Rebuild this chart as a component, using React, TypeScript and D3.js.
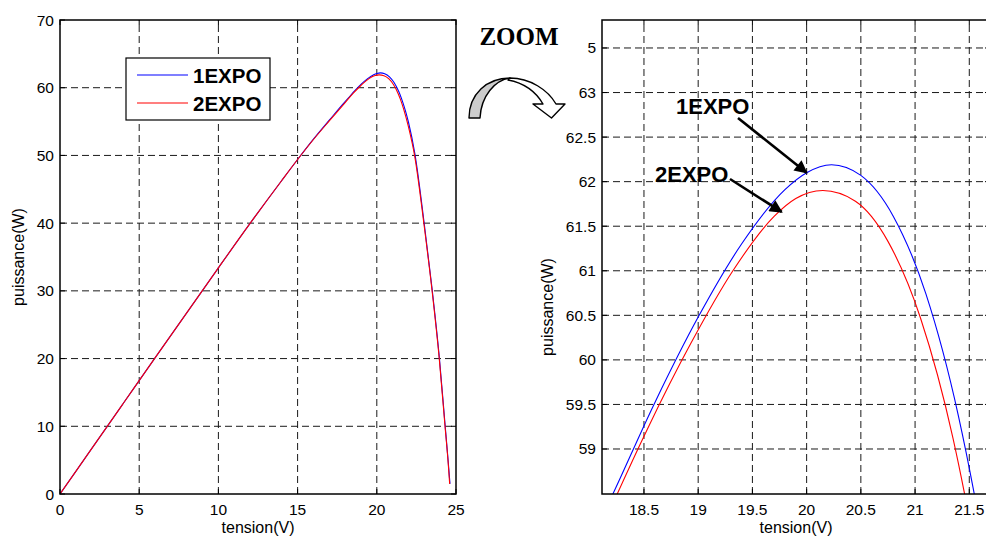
import React, { useEffect, useRef } from "react";
import * as d3 from "d3";

// 1EXPO (blue) : tension (V) / puissance (W)
const v1 = [0, 2, 4, 6, 8, 10, 12, 14, 15, 16, 17, 18, 18.2, 18.6, 19.0, 19.4, 19.8, 20.0, 20.23, 20.5, 20.8, 21.1, 21.4, 21.55, 21.8, 22.0, 22.4, 22.98, 23.5, 23.95, 24.3, 24.5, 24.62];
const p1 = [0, 6.7, 13.4, 20.1, 26.75, 33.4, 39.96, 46.3, 49.4, 52.4, 55.2, 57.95, 58.46, 59.52, 60.48, 61.3, 61.91, 62.1, 62.19, 62.07, 61.61, 60.74, 59.37, 58.47, 56.66, 54.9, 50.3, 40.2, 30.1, 20.1, 10.5, 5.0, 1.5];
// 2EXPO (red)
const v2 = [0, 2, 4, 6, 8, 10, 12, 14, 15, 16, 17, 18, 18.13, 18.53, 18.93, 19.32, 19.7, 19.9, 20.15, 20.45, 20.75, 21.05, 21.35, 21.48, 21.7, 22.0, 22.4, 22.98, 23.5, 23.95, 24.3, 24.5, 24.6];
const p2 = [0, 6.7, 13.4, 20.1, 26.75, 33.4, 39.96, 46.3, 49.4, 52.35, 55.1, 57.8, 58.16, 59.22, 60.18, 61.0, 61.61, 61.81, 61.9, 61.78, 61.33, 60.47, 59.12, 58.35, 56.8, 54.2, 49.8, 39.8, 29.8, 19.8, 10.2, 4.8, 1.5];

const leftXTicks = [0, 5, 10, 15, 20, 25];
const leftYTicks = [0, 10, 20, 30, 40, 50, 60, 70];
const rightXTicks = [18.5, 19, 19.5, 20, 20.5, 21, 21.5];
const rightYTicks = [59, 59.5, 60, 60.5, 61, 61.5, 62, 62.5, 63, 63.5];
const rightYTickLabels = ["59", "59.5", "60", "60.5", "61", "61.5", "62", "62.5", "63", "5"];
const seriesNames = ["1EXPO", "2EXPO"];
const colors = ["#0000ff", "#ff0000"];

const W = 986;
const H = 539;
const SANS = "'Liberation Sans', Arial, sans-serif";

export default function App() {
  const ref = useRef<SVGSVGElement | null>(null);

  useEffect(() => {
    const svg = d3.select(ref.current);
    svg.selectAll("*").remove();

    const s1 = v1.map((v, i) => [v, p1[i]] as [number, number]);
    const s2 = v2.map((v, i) => [v, p2[i]] as [number, number]);

    function panel(opts: {
      id: string;
      xDom: [number, number];
      yDom: [number, number];
      xr: [number, number];
      yr: [number, number];
      xt: number[];
      yt: number[];
      yLab: (d: number, i: number) => string;
      ylabelPos: [number, number];
    }) {
      const x = d3.scaleLinear().domain(opts.xDom).range(opts.xr);
      const y = d3.scaleLinear().domain(opts.yDom).range(opts.yr);
      const [x0, x1] = opts.xr;
      const [y0, y1] = opts.yr; // y0 bottom, y1 top
      const g = svg.append("g");

      g.append("clipPath")
        .attr("id", opts.id)
        .append("rect")
        .attr("x", x0)
        .attr("y", y1)
        .attr("width", x1 - x0)
        .attr("height", y0 - y1);

      // grid
      const grid = g.append("g").attr("stroke", "#1a1a1a").attr("stroke-width", 1).attr("stroke-dasharray", "7,4");
      opts.xt.forEach((t) => {
        if (x(t) <= x0 + 1 || x(t) >= x1 - 1) return;
        grid.append("line").attr("x1", x(t)).attr("x2", x(t)).attr("y1", y0).attr("y2", y1);
      });
      opts.yt.forEach((t) => {
        if (y(t) >= y0 - 1 || y(t) <= y1 + 1) return;
        grid.append("line").attr("x1", x0).attr("x2", x1).attr("y1", y(t)).attr("y2", y(t));
      });

      // curves
      const line = d3
        .line<[number, number]>()
        .x((d) => x(d[0]))
        .y((d) => y(d[1]))
        .curve(d3.curveMonotoneX);
      const cg = g.append("g").attr("clip-path", `url(#${opts.id})`);
      [s1, s2].forEach((s, i) => {
        cg.append("path").attr("d", line(s)).attr("fill", "none").attr("stroke", colors[i]).attr("stroke-width", 1.1);
      });

      // frame + inward ticks
      g.append("rect")
        .attr("x", x0)
        .attr("y", y1)
        .attr("width", x1 - x0)
        .attr("height", y0 - y1)
        .attr("fill", "none")
        .attr("stroke", "#000")
        .attr("stroke-width", 1.5);
      const tk = g.append("g").attr("stroke", "#000").attr("stroke-width", 1);
      opts.xt.forEach((t) => {
        tk.append("line").attr("x1", x(t)).attr("x2", x(t)).attr("y1", y0).attr("y2", y0 - 5);
        tk.append("line").attr("x1", x(t)).attr("x2", x(t)).attr("y1", y1).attr("y2", y1 + 5);
      });
      opts.yt.forEach((t) => {
        tk.append("line").attr("x1", x0).attr("x2", x0 + 5).attr("y1", y(t)).attr("y2", y(t));
        tk.append("line").attr("x1", x1).attr("x2", x1 - 5).attr("y1", y(t)).attr("y2", y(t));
      });

      // tick labels
      const lab = g.append("g").attr("font-family", SANS).attr("font-size", 15.5).attr("fill", "#000");
      opts.xt.forEach((t) => {
        lab.append("text").attr("x", x(t)).attr("y", y0 + 21).attr("text-anchor", "middle").text(String(t));
      });
      opts.yt.forEach((t, i) => {
        lab.append("text").attr("x", x0 - 6).attr("y", y(t) + 5.5).attr("text-anchor", "end").text(opts.yLab(t, i));
      });

      g.append("text")
        .attr("x", (x0 + x1) / 2)
        .attr("y", 533)
        .attr("text-anchor", "middle")
        .attr("font-family", SANS)
        .attr("font-size", 16)
        .text("tension(V)");
      g.append("text")
        .attr("transform", `translate(${opts.ylabelPos[0]},${opts.ylabelPos[1]}) rotate(-90)`)
        .attr("text-anchor", "middle")
        .attr("font-family", SANS)
        .attr("font-size", 16)
        .text("puissance(W)");

      return { x, y, g };
    }

    panel({
      id: "clipL",
      xDom: [0, 25],
      yDom: [0, 70],
      xr: [60, 456],
      yr: [494, 20],
      xt: leftXTicks,
      yt: leftYTicks,
      yLab: (d) => String(d),
      ylabelPos: [24, 257],
    });

    const R = panel({
      id: "clipR",
      xDom: [18.113, 21.691],
      yDom: [58.495, 63.814],
      xr: [602, 990],
      yr: [494, 20],
      xt: rightXTicks,
      yt: rightYTicks,
      yLab: (_d, i) => rightYTickLabels[i],
      ylabelPos: [553, 307],
    });

    // legend
    const lg = svg.append("g");
    lg.append("rect").attr("x", 126).attr("y", 58).attr("width", 144).attr("height", 62).attr("fill", "#fff").attr("stroke", "#000").attr("stroke-width", 1.2);
    seriesNames.forEach((n, i) => {
      const yy = 75 + i * 28;
      lg.append("line").attr("x1", 137).attr("x2", 188).attr("y1", yy).attr("y2", yy).attr("stroke", colors[i]).attr("stroke-width", 1.1);
      lg.append("text")
        .attr("x", 193)
        .attr("y", yy + 8)
        .attr("font-family", SANS)
        .attr("font-weight", "bold")
        .attr("font-size", 20.5)
        .text(n);
    });

    // annotations on zoom panel
    const defs = svg.append("defs");
    defs
      .append("marker")
      .attr("id", "ah")
      .attr("viewBox", "0 0 10 10")
      .attr("refX", 9)
      .attr("refY", 5)
      .attr("markerWidth", 6)
      .attr("markerHeight", 5)
      .attr("orient", "auto")
      .append("path")
      .attr("d", "M0,0 L10,5 L0,10 Z")
      .attr("fill", "#000");

    const ann = svg.append("g");
    const annots = [
      { text: seriesNames[0], tx: 676, ty: 114, from: [738, 118], to: [20.0, 62.1] },
      { text: seriesNames[1], tx: 655, ty: 182, from: [730, 179], to: [19.77, 61.66] },
    ];
    annots.forEach((a) => {
      ann.append("text")
        .attr("x", a.tx)
        .attr("y", a.ty)
        .attr("font-family", SANS)
        .attr("font-weight", "bold")
        .attr("font-size", 22)
        .text(a.text);
      ann.append("line")
        .attr("x1", a.from[0])
        .attr("y1", a.from[1])
        .attr("x2", R.x(a.to[0]))
        .attr("y2", R.y(a.to[1]))
        .attr("stroke", "#000")
        .attr("stroke-width", 2.6)
        .attr("marker-end", "url(#ah)");
    });

    // ZOOM label + curved arrow
    svg.append("text")
      .attr("x", 519)
      .attr("y", 45)
      .attr("text-anchor", "middle")
      .attr("font-family", "'Liberation Serif', 'Times New Roman', serif")
      .attr("font-weight", "bold")
      .attr("font-size", 25)
      .text("ZOOM");
    svg.append("path")
      .attr("d", "M510,78 C530,78 548,90 556,104 L565,104 L551.5,118 L533,104 L543,104 C536,92 524,83 508,80 Z")
      .attr("fill", "#fff")
      .attr("stroke", "#000")
      .attr("stroke-width", 1.4)
      .attr("stroke-linejoin", "round");
    svg.append("path")
      .attr("d", "M469,118 C469,94 487,78 510,78 C495,80 481,96 480,118 Z")
      .attr("fill", "#cccccc")
      .attr("stroke", "#000")
      .attr("stroke-width", 1.4)
      .attr("stroke-linejoin", "round");
  }, []);

  return (
    <svg
      ref={ref}
      width={W}
      height={H}
      style={{ position: "fixed", left: 0, top: 0, background: "#fff" }}
    />
  );
}
